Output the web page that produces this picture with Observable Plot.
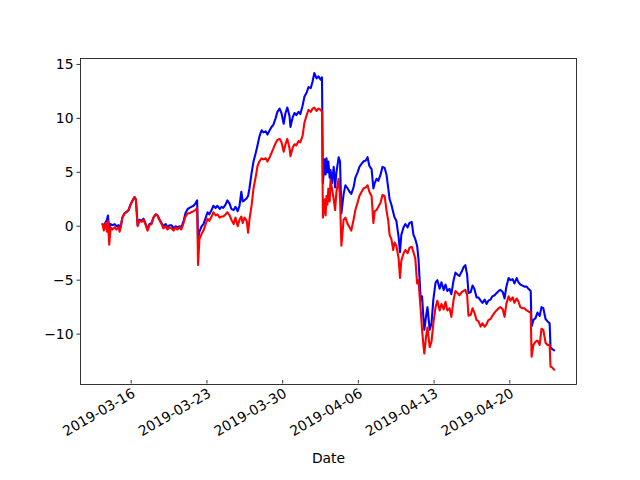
<!DOCTYPE html>
<html><head><meta charset="utf-8">
<script src="https://cdn.jsdelivr.net/npm/d3@7"></script>
<script src="https://cdn.jsdelivr.net/npm/@observablehq/plot@0.6"></script>
<style>html,body{margin:0;padding:0;background:#fff;overflow:hidden;}</style>
</head><body><div id="chart"></div>
<script>
const dates = [
"2019-03-12 19:00","2019-03-12 22:00","2019-03-13 02:00","2019-03-13 05:00","2019-03-13 07:00","2019-03-13 10:00","2019-03-13 13:00","2019-03-13 17:00","2019-03-13 22:00","2019-03-14 02:00",
"2019-03-14 07:00","2019-03-14 09:00","2019-03-14 12:00","2019-03-14 15:00","2019-03-14 20:00","2019-03-15 00:00","2019-03-15 05:00","2019-03-15 09:00","2019-03-15 14:00","2019-03-15 18:00",
"2019-03-15 21:00","2019-03-16 01:00","2019-03-16 05:00","2019-03-16 10:00","2019-03-16 14:00","2019-03-16 18:00","2019-03-16 23:00","2019-03-17 03:00","2019-03-17 08:00","2019-03-17 12:00",
"2019-03-17 17:00","2019-03-17 21:00","2019-03-18 02:00","2019-03-18 06:00","2019-03-18 10:00","2019-03-18 15:00","2019-03-18 19:00","2019-03-19 00:00","2019-03-19 04:00","2019-03-19 09:00",
"2019-03-19 13:00","2019-03-19 17:00","2019-03-19 22:00","2019-03-20 02:00","2019-03-20 07:00","2019-03-20 11:00","2019-03-20 16:00","2019-03-20 20:00","2019-03-21 00:00","2019-03-21 05:00",
"2019-03-21 09:00","2019-03-21 13:00","2019-03-21 15:00","2019-03-21 18:00","2019-03-21 23:00","2019-03-22 03:00","2019-03-22 08:00","2019-03-22 12:00","2019-03-22 16:00","2019-03-22 21:00",
"2019-03-23 01:00","2019-03-23 06:00","2019-03-23 10:00","2019-03-23 15:00","2019-03-23 19:00","2019-03-23 23:00","2019-03-24 04:00","2019-03-24 08:00","2019-03-24 13:00","2019-03-24 17:00",
"2019-03-24 22:00","2019-03-25 02:00","2019-03-25 07:00","2019-03-25 11:00","2019-03-25 15:00","2019-03-25 18:00","2019-03-25 22:00","2019-03-26 03:00","2019-03-26 06:00","2019-03-26 09:00",
"2019-03-26 14:00","2019-03-26 18:00","2019-03-26 23:00","2019-03-27 03:00","2019-03-27 07:00","2019-03-27 12:00","2019-03-27 16:00","2019-03-27 21:00","2019-03-28 01:00","2019-03-28 06:00",
"2019-03-28 10:00","2019-03-28 14:00","2019-03-28 19:00","2019-03-28 23:00","2019-03-29 04:00","2019-03-29 08:00","2019-03-29 13:00","2019-03-29 17:00","2019-03-29 21:00","2019-03-30 02:00",
"2019-03-30 04:00","2019-03-30 09:00","2019-03-30 13:00","2019-03-30 17:00","2019-03-30 22:00","2019-03-31 02:00","2019-03-31 07:00","2019-03-31 11:00","2019-03-31 16:00","2019-03-31 20:00",
"2019-04-01 01:00","2019-04-01 05:00","2019-04-01 09:00","2019-04-01 14:00","2019-04-01 18:00","2019-04-01 23:00","2019-04-02 02:00","2019-04-02 04:00","2019-04-02 08:00","2019-04-02 10:00",
"2019-04-02 12:00","2019-04-02 14:00","2019-04-02 16:00","2019-04-02 19:00","2019-04-02 21:00","2019-04-03 00:00","2019-04-03 04:00","2019-04-03 07:00","2019-04-03 10:00","2019-04-03 15:00",
"2019-04-03 18:00","2019-04-03 21:00","2019-04-04 02:00","2019-04-04 06:00","2019-04-04 11:00","2019-04-04 15:00","2019-04-04 19:00","2019-04-05 00:00","2019-04-05 04:00","2019-04-05 09:00",
"2019-04-05 13:00","2019-04-05 18:00","2019-04-05 22:00","2019-04-06 03:00","2019-04-06 07:00","2019-04-06 11:00","2019-04-06 16:00","2019-04-06 20:00","2019-04-06 23:00","2019-04-07 03:00",
"2019-04-07 07:00","2019-04-07 12:00","2019-04-07 16:00","2019-04-07 21:00","2019-04-08 01:00","2019-04-08 05:00","2019-04-08 08:00","2019-04-08 12:00","2019-04-08 16:00","2019-04-08 19:00",
"2019-04-08 23:00","2019-04-09 04:00","2019-04-09 07:00","2019-04-09 10:00","2019-04-09 15:00","2019-04-09 19:00","2019-04-10 00:00","2019-04-10 04:00","2019-04-10 09:00","2019-04-10 13:00",
"2019-04-10 17:00","2019-04-10 21:00","2019-04-11 00:00","2019-04-11 05:00","2019-04-11 08:00","2019-04-11 11:00","2019-04-11 13:00","2019-04-11 17:00","2019-04-11 20:00","2019-04-12 01:00",
"2019-04-12 05:00","2019-04-12 09:00","2019-04-12 14:00","2019-04-12 18:00","2019-04-12 23:00","2019-04-13 03:00","2019-04-13 08:00","2019-04-13 12:00","2019-04-13 16:00","2019-04-13 21:00",
"2019-04-14 01:00","2019-04-14 06:00","2019-04-14 10:00","2019-04-14 15:00","2019-04-14 19:00","2019-04-15 00:00","2019-04-15 04:00","2019-04-15 08:00","2019-04-15 12:00","2019-04-15 15:00",
"2019-04-15 20:00","2019-04-16 00:00","2019-04-16 04:00","2019-04-16 09:00","2019-04-16 13:00","2019-04-16 18:00","2019-04-16 22:00","2019-04-17 03:00","2019-04-17 07:00","2019-04-17 11:00",
"2019-04-17 16:00","2019-04-17 20:00","2019-04-18 01:00","2019-04-18 05:00","2019-04-18 10:00","2019-04-18 14:00","2019-04-18 19:00","2019-04-18 23:00","2019-04-19 03:00","2019-04-19 08:00",
"2019-04-19 12:00","2019-04-19 17:00","2019-04-19 21:00","2019-04-20 02:00","2019-04-20 06:00","2019-04-20 10:00","2019-04-20 15:00","2019-04-20 19:00","2019-04-21 00:00","2019-04-21 04:00",
"2019-04-21 09:00","2019-04-21 11:00","2019-04-21 15:00","2019-04-21 20:00","2019-04-22 00:00","2019-04-22 05:00","2019-04-22 09:00","2019-04-22 13:00","2019-04-22 18:00","2019-04-22 22:00",
"2019-04-23 03:00","2019-04-23 05:00","2019-04-23 09:00","2019-04-23 13:00"
];
const blueSeries = [
0.2,0.0,0.4,0.6,1.0,-0.2,0.2,0.1,0.2,0.0,
0.1,-0.3,0.1,0.8,1.2,1.3,1.5,2.0,2.4,2.7,
2.5,0.1,0.6,0.5,0.7,0.3,-0.3,0.2,0.3,0.8,
1.1,1.0,0.6,0.3,0.0,0.2,-0.1,0.1,0.1,-0.2,
0.0,-0.1,0.0,-0.1,0.5,1.2,1.6,1.7,1.8,1.9,
2.1,2.4,-1.2,-0.5,0.0,0.2,0.8,1.3,1.1,1.5,
1.9,1.7,1.9,1.6,1.8,1.7,2.0,2.4,2.1,1.6,
1.5,1.8,1.4,1.9,3.2,2.3,2.4,2.6,2.8,3.5,
5.0,6.0,6.8,7.5,8.3,8.9,8.7,8.8,8.5,8.9,
9.2,9.4,10.0,10.6,10.9,10.5,9.5,10.5,11.0,10.2,
9.2,10.1,10.5,10.3,10.6,10.4,11.2,12.0,12.4,12.9,
12.8,13.4,14.2,13.7,13.9,13.6,13.8,4.0,6.2,4.8,
6.3,5.0,6.0,4.5,5.2,4.0,5.5,3.6,5.0,6.4,
6.0,1.2,3.0,3.8,3.5,3.2,3.0,3.6,4.5,5.0,
5.5,5.8,6.0,6.1,6.4,5.6,5.3,3.5,4.0,4.4,
4.2,4.8,5.5,5.4,4.8,3.5,2.5,2.0,1.3,0.8,
0.5,-1.0,-2.4,-0.8,-0.1,0.2,-0.1,0.3,0.4,-0.8,
-1.2,-1.8,-3.0,-6.8,-6.5,-8.5,-9.6,-8.3,-7.5,-9.6,
-9.0,-6.8,-5.2,-5.0,-5.8,-5.2,-5.9,-5.4,-6.0,-5.8,
-6.3,-5.0,-4.3,-4.5,-4.6,-4.2,-3.8,-3.6,-4.5,-6.2,
-6.1,-5.5,-5.8,-6.6,-6.6,-6.9,-7.1,-6.8,-7.2,-6.9,
-6.8,-6.5,-6.4,-6.2,-6.0,-5.9,-6.1,-6.7,-5.6,-4.8,
-5.0,-4.9,-5.3,-4.8,-5.2,-5.4,-5.5,-5.6,-5.6,-5.8,
-6.0,-9.3,-8.7,-8.5,-8.0,-8.3,-7.5,-7.6,-8.6,-8.8,
-9.0,-11.2,-11.4,-11.5
];
const redSeries = [
0.2,-0.4,0.3,-0.5,0.5,-1.7,-0.1,-0.3,-0.1,-0.3,
-0.1,-0.5,0.0,0.8,1.2,1.3,1.5,2.0,2.4,2.7,
2.5,0.0,0.5,0.4,0.6,0.2,-0.4,0.1,0.2,0.8,
1.1,1.0,0.5,0.2,-0.2,0.0,-0.3,-0.1,-0.2,-0.4,
-0.1,-0.3,-0.1,-0.3,0.3,0.9,1.2,1.2,1.3,1.4,
1.5,1.7,-3.6,-1.2,-0.7,-0.4,0.2,0.7,0.5,0.9,
1.3,1.0,1.1,0.8,0.9,0.9,1.1,1.3,1.0,0.6,
0.2,0.8,0.0,0.6,0.9,0.3,0.8,0.5,-0.6,0.6,
2.0,3.5,4.6,5.6,6.0,6.3,6.2,6.3,6.0,6.4,
6.8,7.2,7.7,8.0,8.1,7.8,6.9,7.6,8.1,7.2,
6.5,7.3,7.6,7.5,7.9,7.8,8.4,9.6,10.3,10.8,
10.6,10.9,11.0,10.7,10.9,10.8,10.6,0.8,2.5,1.0,
2.8,2.0,3.5,2.3,4.3,3.5,2.5,1.5,3.2,4.4,
2.5,-1.8,0.6,0.8,0.2,-0.1,-0.4,0.6,1.5,2.2,
2.8,3.2,3.5,3.6,3.8,3.2,2.8,0.3,1.4,1.5,
1.8,2.2,2.9,2.8,1.5,0.5,-0.8,-1.2,-2.2,-1.5,
-1.8,-3.0,-4.8,-3.2,-2.5,-2.2,-2.5,-2.0,-1.9,-2.4,
-3.0,-5.3,-5.0,-7.8,-9.6,-11.0,-11.8,-10.2,-9.4,-11.2,
-10.7,-9.0,-7.5,-6.9,-7.8,-7.2,-7.7,-7.0,-7.8,-7.6,
-8.4,-6.8,-6.0,-6.2,-6.4,-6.1,-6.0,-5.9,-6.4,-8.3,
-8.2,-7.6,-8.0,-8.7,-8.8,-9.3,-9.0,-9.3,-9.1,-8.7,
-8.6,-8.3,-8.0,-7.8,-7.6,-7.5,-7.7,-8.4,-7.2,-6.5,
-6.9,-6.6,-7.1,-6.7,-7.0,-7.5,-7.6,-7.6,-7.8,-7.9,
-8.0,-12.1,-11.0,-10.7,-10.6,-11.0,-9.5,-9.6,-10.8,-11.0,
-11.0,-13.0,-13.1,-13.3
];
const xTickLabels = ["2019-03-16","2019-03-23","2019-03-30","2019-04-06","2019-04-13","2019-04-20"];
const yTickValues = [-10, -5, 0, 5, 10, 15];
const xAxisLabel = "Date";

const parseTime = d3.utcParse("%Y-%m-%d %H:%M");
const parseDay = d3.utcParse("%Y-%m-%d");
const rows = dates.map((d, i) => ({date: parseTime(d), blue: blueSeries[i], red: redSeries[i]}));
const tickDates = xTickLabels.map(parseDay);

const chart = Plot.plot({
  width: 640,
  height: 480,
  marginLeft: 80,
  marginRight: 64,
  marginTop: 58,
  marginBottom: 96,
  style: {fontFamily: "'DejaVu Sans', sans-serif", fontSize: "13.9px", background: "white", color: "black"},
  x: {type: "utc", domain: [new Date(Date.UTC(2019, 2, 10, 18, 12)), new Date(Date.UTC(2019, 3, 25, 14, 38))]},
  y: {domain: [-14.67, 15.55]},
  marks: [
    Plot.line(rows, {x: "date", y: "blue", stroke: "#0000ff", strokeWidth: 2.08}),
    Plot.line(rows, {x: "date", y: "red", stroke: "#ff0000", strokeWidth: 2.08}),
    Plot.frame({stroke: "black", strokeWidth: 0.8}),
    Plot.axisY({ticks: yTickValues, tickSize: 3.5, tickPadding: 3.5, strokeWidth: 0.8, label: null, fontVariant: "normal"}),
    Plot.axisX({ticks: tickDates, tickFormat: d3.utcFormat("%Y-%m-%d"), tickSize: 3.5, tickPadding: 3.5, strokeWidth: 0.8,
      tickRotate: -30, textAnchor: "end", lineAnchor: "top", dx: -6, dy: -4, label: null, fontVariant: "normal"}),
    Plot.text([xAxisLabel], {text: d => d, frameAnchor: "bottom", dy: 74, lineAnchor: "middle"})
  ]
});
document.getElementById("chart").appendChild(chart);
</script>
</body></html>
